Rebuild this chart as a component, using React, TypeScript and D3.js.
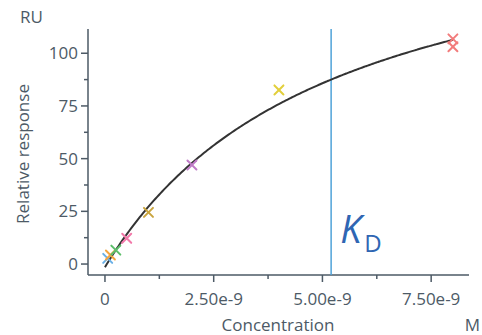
import React from "react";
import * as d3 from "d3";

const concentrations = [0.0625e-9, 0.125e-9, 0.25e-9, 0.5e-9, 1e-9, 2e-9, 4e-9, 8e-9, 8e-9];
const responses = [2.7, 4.3, 6.6, 12.2, 24.5, 47, 82.6, 106.8, 103.1];
const pointColors = ["#6ab0e6", "#f4a640", "#5cbf6a", "#f27aaa", "#c9a43e", "#c07cc8", "#e2cf3c", "#f27c7c", "#f27c7c"];

const xTicks = [0, 2.5e-9, 5e-9, 7.5e-9];
const xTickLabels = ["0", "2.50e-9", "5.00e-9", "7.50e-9"];
const xMinorTicks = [1.25e-9, 3.75e-9, 6.25e-9];
const yTicks = [0, 25, 50, 75, 100];
const yMinorTicks = [12.5, 37.5, 62.5, 87.5];

// Langmuir fit parameters
const fitRmax = [178];
const fitKD = [5.2e-9];
const fitOffset = [-1.5];
const fitRange = [0, 8e-9];

const W = 482;
const H = 335;
const axisColor = "#4d5a66";
const textColor = "#4d5a66";
const font = "'Open Sans', sans-serif";
const fs = 17;

export default function App() {
  const x = d3.scaleLinear().domain([-0.39e-9, 8.37e-9]).range([88, 469]);
  const y = d3.scaleLinear().domain([-5.2, 111.5]).range([275, 29]);

  const fit = (c: number) => (fitRmax[0] * c) / (fitKD[0] + c) + fitOffset[0];
  const curvePts: [number, number][] = d3
    .range(0, 201)
    .map((i) => fitRange[0] + ((fitRange[1] - fitRange[0]) * i) / 200)
    .map((c) => [c, fit(c)]);
  const line = d3
    .line<[number, number]>()
    .x((d) => x(d[0]))
    .y((d) => y(d[1]))
    .curve(d3.curveMonotoneX);

  const x0 = x.range()[0];
  const y0 = y.range()[0];
  const m = 4.5;

  return (
    <svg
      width={W}
      height={H}
      style={{ position: "absolute", left: 0, top: 0, background: "#fff" }}
      fontFamily={font}
    >
      {/* axes */}
      <line x1={x0} x2={x0} y1={y.range()[1]} y2={y0} stroke={axisColor} strokeWidth={1.5} />
      <line x1={x0} x2={x.range()[1]} y1={y0} y2={y0} stroke={axisColor} strokeWidth={1.5} />
      {yTicks.map((t) => (
        <g key={"y" + t}>
          <line x1={x0 - 7} x2={x0} y1={y(t)} y2={y(t)} stroke={axisColor} strokeWidth={1.5} />
          <text x={x0 - 10} y={y(t)} dy="0.35em" textAnchor="end" fontSize={fs} fill={textColor}>
            {t}
          </text>
        </g>
      ))}
      {yMinorTicks.map((t) => (
        <line key={"ym" + t} x1={x0 - 4} x2={x0} y1={y(t)} y2={y(t)} stroke={axisColor} strokeWidth={1.5} />
      ))}
      {xTicks.map((t, i) => (
        <g key={"x" + t}>
          <line x1={x(t)} x2={x(t)} y1={y0} y2={y0 + 7} stroke={axisColor} strokeWidth={1.5} />
          <text x={x(t)} y={305} textAnchor="middle" fontSize={fs} fill={textColor}>
            {xTickLabels[i]}
          </text>
        </g>
      ))}
      {xMinorTicks.map((t) => (
        <line key={"xm" + t} x1={x(t)} x2={x(t)} y1={y0} y2={y0 + 4} stroke={axisColor} strokeWidth={1.5} />
      ))}

      {/* labels */}
      <text x={20} y={23} fontSize={fs} fill={textColor}>RU</text>
      <text
        transform={`translate(29,154) rotate(-90)`}
        textAnchor="middle"
        fontSize={fs}
        fill={textColor}
      >
        Relative response
      </text>
      <text x={278} y={331} textAnchor="middle" fontSize={fs} fill={textColor}>
        Concentration
      </text>
      <text x={480} y={331} textAnchor="end" fontSize={fs} fill={textColor}>M</text>

      {/* KD line */}
      <line x1={x(fitKD[0])} x2={x(fitKD[0])} y1={y.range()[1]} y2={y0} stroke="#4fa3d9" strokeWidth={1.5} />
      <text x={x(fitKD[0]) + 9} y={243} fill="#2f66b3" fontSize={38} fontStyle="italic">
        K
      </text>
      <text x={x(fitKD[0]) + 33} y={252} fill="#2f66b3" fontSize={24}>
        D
      </text>

      {/* fit curve */}
      <path d={line(curvePts) || ""} fill="none" stroke="#333" strokeWidth={2} />

      {/* points */}
      {concentrations.map((c, i) => {
        const cx = x(c);
        const cy = y(responses[i]);
        return (
          <g key={"p" + i} stroke={pointColors[i]} strokeWidth={2} strokeLinecap="round">
            <line x1={cx - m} x2={cx + m} y1={cy - m} y2={cy + m} />
            <line x1={cx - m} x2={cx + m} y1={cy + m} y2={cy - m} />
          </g>
        );
      })}
    </svg>
  );
}
